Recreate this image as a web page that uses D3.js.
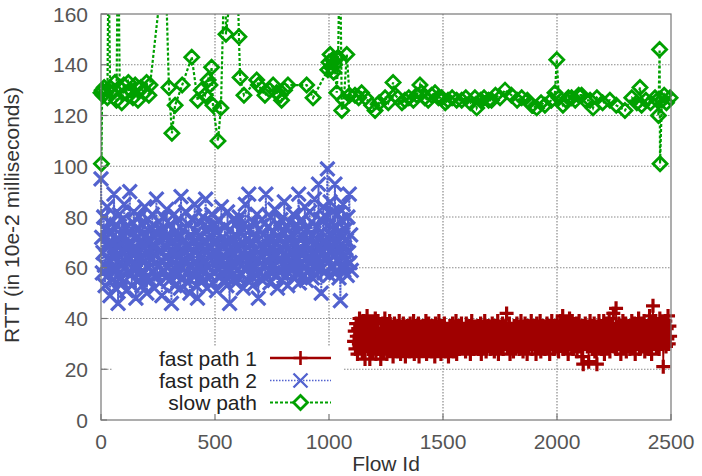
<!DOCTYPE html>
<html>
<head>
<meta charset="utf-8">
<script src="https://cdn.jsdelivr.net/npm/d3@7"></script>
<style>
  body { margin: 0; background: #fff; }
  svg { display: block; font-family: "Liberation Sans", Arial, sans-serif; }
</style>
</head>
<body>
<div id="chart"></div>
<script>
// fast path 2: one RTT value every 3 flow ids, starting at flow 0
var fast2Start = 0, fast2Step = 3;
var fast2Rtt = [
  95,72,58,66,80,61,53,75,69,84,57,63,78,49,70,60,74,55,67,89,
  64,52,77,59,71,46,68,81,56,73,62,79,54,66,85,60,76,51,69,58,
  74,63,90,57,70,53,78,65,82,59,67,48,75,61,72,55,80,64,58,71,
  53,77,62,68,84,56,73,50,66,79,60,70,55,76,63,81,58,69,52,74,
  65,87,57,71,61,78,54,67,75,49,62,80,59,72,64,56,83,68,60,73,
  55,77,63,46,70,58,66,81,53,74,61,69,57,79,64,72,52,88,67,60,
  75,56,71,63,82,58,68,54,77,65,50,73,60,79,57,70,62,85,66,53,
  74,48,69,61,78,56,72,64,59,80,55,67,63,87,70,52,76,60,68,57,
  73,65,81,54,70,62,58,77,66,51,74,60,79,56,69,63,84,58,72,61,
  55,76,64,70,53,82,59,67,46,75,62,71,57,79,65,60,73,54,68,78,
  63,56,80,69,58,74,61,66,52,77,64,85,59,71,55,68,89,62,75,57,
  70,64,53,78,60,72,67,57,81,63,48,75,58,69,65,79,55,73,61,68,
  56,89,66,62,76,59,71,54,80,64,68,58,74,61,83,57,70,65,52,77,
  63,72,58,79,67,55,74,61,86,69,57,76,64,53,71,60,78,66,59,73,
  62,81,56,70,65,58,77,63,74,89,54,68,61,79,66,57,72,60,84,69,
  55,75,64,71,59,82,67,62,78,56,73,65,87,60,70,57,76,63,93,68,
  61,79,50,74,66,84,58,71,64,80,69,99,62,77,57,86,67,73,60,82,
  65,70,93,58,76,63,81,68,56,74,47,79,61,72,85,59,68,75,63,71,
  57,80,66,89,62,73,59
];

// fast path 1: one RTT value every 3 flow ids, starting at flow 1110
var fast1Start = 1110, fast1Step = 3;
var fast1Rtt = [
  31,35,28,38,33,26,36,30,40,29,34,37,27,32,39,30,24,35,31,41,
  33,28,37,24,34,30,38,27,35,32,29,40,26,36,31,39,28,34,30,24,
  36,31,38,27,33,40,29,35,26,37,32,30,39,28,34,31,36,25,33,38,
  29,35,32,27,37,30,39,34,26,31,36,28,38,33,30,25,35,32,37,29,
  34,27,38,31,36,29,33,39,26,35,30,37,28,32,38,25,34,31,36,29,
  33,37,28,35,30,39,26,34,31,38,29,36,32,27,37,33,30,35,25,38,
  31,36,28,34,39,30,33,26,37,32,29,35,38,27,31,36,30,34,25,33,
  37,29,35,31,38,27,33,36,30,39,26,34,32,37,28,35,31,38,29,33,
  36,30,34,27,38,32,29,35,31,37,26,33,39,30,35,28,36,32,34,29,
  31,37,28,35,33,38,26,34,30,36,29,39,32,27,35,31,37,30,33,28,
  36,32,38,29,34,27,37,31,35,30,39,26,33,36,29,34,31,38,28,35,
  32,30,37,42,29,35,31,38,26,34,36,30,33,27,37,32,35,29,38,31,
  34,28,36,31,39,30,33,27,35,32,38,29,34,26,37,31,36,30,33,39,
  28,35,32,37,30,34,26,38,31,36,29,33,39,27,35,32,37,30,34,28,
  36,31,38,29,33,37,26,35,32,39,30,34,28,37,31,36,29,38,33,27,
  35,30,39,32,36,41,28,34,31,38,29,37,33,26,35,40,30,36,32,39,
  28,34,31,37,30,38,27,35,33,39,29,36,32,25,37,22,34,30,38,31,
  36,29,35,23,33,39,30,37,28,34,32,38,27,36,31,22,35,29,39,33,
  30,37,28,35,32,39,26,34,31,38,29,36,33,40,27,35,30,37,32,42,
  29,36,31,44,28,35,33,38,30,37,26,34,32,39,29,36,31,38,27,35,
  33,30,37,28,35,31,39,29,36,32,38,26,34,30,37,33,40,28,35,31,
  38,29,34,32,39,27,36,30,37,33,35,28,41,31,38,26,34,45,30,36,
  32,39,29,35,31,37,28,40,33,36,30,38,21,34,31,39,29,36,32,41,
  30,37,33
];

// slow path: sparse flows (values above 160 run off the top of the plot)
var slowIds = [
  0,2,5,9,14,20,28,33,40,50,61,68,75,82,91,100,110,120,130,140,
  150,162,175,190,200,210,215,281,298,311,325,356,398,424,440,456,470,478,485,491,
  513,526,544,548,595,605,610,627,683,690,719,740,755,770,785,792,805,820,902,930,
  995,1000,1005,1010,1015,1020,1025,1034,1040,1048,1056,1065,1078,1090,1114,1130,1143,1160,1187,1202,
  1220,1246,1260,1281,1290,1302,1320,1333,1350,1370,1385,1399,1406,1420,1435,1450,1465,1480,1494,1510,
  1522,1540,1560,1582,1600,1620,1640,1648,1665,1680,1700,1713,1730,1750,1772,1800,1825,1845,1870,1890,
  1911,1930,1947,1975,1991,1999,2008,2026,2040,2050,2064,2080,2095,2108,2125,2145,2158,2175,2200,2232,
  2260,2298,2328,2350,2364,2371,2390,2410,2430,2440,2445,2450,2452,2460,2470,2480,2496
];
var slowRtt = [
  129,101,130,128,131,129,127,185,131,129,133,126,200,131,125,132,129,133,130,127,
  132,126,131,129,133,128,132,185,131,113,124,132,143,126,130,128,134,132,139,124,
  110,123,190,152,190,151,135,128,134,132,128,130,132,129,128,126,130,132,132,127,
  138,141,144,139,142,137,140,129,143,190,122,126,144,128,128,127,129,127,124,122,
  125,127,125,133,128,127,125,126,127,126,128,132,129,127,126,128,129,127,127,125,
  126,127,126,126,127,125,127,123,126,127,126,126,128,127,130,128,126,127,126,124,
  123,125,124,126,129,142,127,124,126,127,127,126,128,128,126,126,123,127,125,126,
  124,122,127,125,131,124,126,125,127,126,120,146,101,126,128,125,127
];

var xTicks = [0, 500, 1000, 1500, 2000, 2500];
var yTicks = [0, 20, 40, 60, 80, 100, 120, 140, 160];
var seriesNames = ["fast path 1", "fast path 2", "slow path"];
var seriesColors = ["#a00000", "#5262cf", "#00a000"];

var W = 702, H = 476;
var margin = {top: 14, right: 31, bottom: 56, left: 101};
var width = W - margin.left - margin.right;
var height = H - margin.top - margin.bottom;

var svg = d3.select("#chart").append("svg")
    .attr("width", W)
    .attr("height", H);

var g = svg.append("g")
    .attr("transform", "translate(" + margin.left + "," + margin.top + ")");

var x = d3.scaleLinear().domain([0, 2500]).range([0, width]);
var y = d3.scaleLinear().domain([0, 160]).range([height, 0]);

svg.append("defs").append("clipPath").attr("id", "plotClip")
    .append("rect").attr("width", width).attr("height", height);

// grid
g.append("g").selectAll("line").data(xTicks.slice(1, -1)).enter().append("line")
    .attr("x1", function(d) { return x(d); }).attr("x2", function(d) { return x(d); })
    .attr("y1", 0).attr("y2", height)
    .attr("stroke", "#8a8a8a").attr("stroke-width", 1.2).attr("stroke-dasharray", "1.5,1.5");
g.append("g").selectAll("line").data(yTicks.slice(1, -1)).enter().append("line")
    .attr("x1", 0).attr("x2", width)
    .attr("y1", function(d) { return y(d); }).attr("y2", function(d) { return y(d); })
    .attr("stroke", "#8a8a8a").attr("stroke-width", 1.2).attr("stroke-dasharray", "1.5,1.5");

var fast2 = fast2Rtt.map(function(v, i) { return {id: fast2Start + i * fast2Step, rtt: v}; });
var fast1 = fast1Rtt.map(function(v, i) { return {id: fast1Start + i * fast1Step, rtt: v}; });
var slow = slowIds.map(function(id, i) { return {id: id, rtt: slowRtt[i]}; });

function crossPath(px, py) {
    var s = 7;
    return "M" + (px - s) + "," + (py - s) + "L" + (px + s) + "," + (py + s) +
           "M" + (px - s) + "," + (py + s) + "L" + (px + s) + "," + (py - s);
}
function plusPath(px, py) {
    var s = 7;
    return "M" + (px - s) + "," + py + "L" + (px + s) + "," + py +
           "M" + px + "," + (py - s) + "L" + px + "," + (py + s);
}
function diamondPath(px, py) {
    var r = 7;
    return "M" + px + "," + (py - r) + "L" + (px + r) + "," + py +
           "L" + px + "," + (py + r) + "L" + (px - r) + "," + py + "Z";
}

var line = d3.line().x(function(d) { return x(d.id); }).y(function(d) { return y(d.rtt); });

// fast path 2 (dotted line + crosses)
g.append("path")
    .datum(fast2)
    .attr("d", line)
    .attr("fill", "none").attr("stroke", seriesColors[1])
    .attr("stroke-width", 2).attr("stroke-dasharray", "2,1");
g.append("path")
    .attr("d", fast2.map(function(d) { return crossPath(x(d.id), y(d.rtt)); }).join(""))
    .attr("fill", "none").attr("stroke", seriesColors[1]).attr("stroke-width", 3.2);

// fast path 1 (solid line + plus signs)
g.append("path")
    .datum(fast1)
    .attr("d", line)
    .attr("fill", "none").attr("stroke", seriesColors[0]).attr("stroke-width", 1.6);
g.append("path")
    .attr("d", fast1.map(function(d) { return plusPath(x(d.id), y(d.rtt)); }).join(""))
    .attr("fill", "none").attr("stroke", seriesColors[0]).attr("stroke-width", 3.2);

// slow path (dashed line + diamonds)
g.append("path")
    .datum(slow)
    .attr("clip-path", "url(#plotClip)")
    .attr("d", line)
    .attr("fill", "none").attr("stroke", seriesColors[2])
    .attr("stroke-width", 2.2).attr("stroke-dasharray", "3,2");
g.append("path")
    .attr("d", slow.filter(function(d) { return d.rtt <= 160; })
        .map(function(d) { return diamondPath(x(d.id), y(d.rtt)); }).join(""))
    .attr("fill", "none").attr("stroke", seriesColors[2]).attr("stroke-width", 2.8);

// legend (opaque box)
var lg = g.append("g");
lg.append("rect")
    .attr("x", 12).attr("y", 333).attr("width", 230).attr("height", 71)
    .attr("fill", "#fff");

// border + ticks
g.append("rect").attr("width", width).attr("height", height)
    .attr("fill", "none").attr("stroke", "#777").attr("stroke-width", 1.2);
g.append("g").selectAll("line").data(xTicks).enter().append("line")
    .attr("x1", function(d) { return x(d); }).attr("x2", function(d) { return x(d); })
    .attr("y1", height).attr("y2", height - 6)
    .attr("stroke", "#777").attr("stroke-width", 1.2);
g.append("g").selectAll("line").data(yTicks).enter().append("line")
    .attr("x1", 0).attr("x2", 6)
    .attr("y1", function(d) { return y(d); }).attr("y2", function(d) { return y(d); })
    .attr("stroke", "#777").attr("stroke-width", 1.2);

// axis labels
g.append("g").selectAll("text").data(xTicks).enter().append("text")
    .attr("x", function(d) { return x(d); })
    .attr("y", height + 29)
    .attr("text-anchor", "middle")
    .style("font-size", "21px").style("fill", "#555")
    .text(function(d) { return d; });
g.append("g").selectAll("text").data(yTicks).enter().append("text")
    .attr("x", -13)
    .attr("y", function(d) { return y(d) + 7.5; })
    .attr("text-anchor", "end")
    .style("font-size", "21px").style("fill", "#555")
    .text(function(d) { return d; });

svg.append("text")
    .attr("transform", "translate(19,215) rotate(-90)")
    .attr("text-anchor", "middle")
    .style("font-size", "21px").style("fill", "#333")
    .text("RTT (in 10e-2 milliseconds)");
svg.append("text")
    .attr("x", 386).attr("y", 471)
    .attr("text-anchor", "middle")
    .style("font-size", "21px").style("fill", "#333")
    .text("Flow Id");

// legend entries
var legendRows = [344, 366.5, 388.5];
seriesNames.forEach(function(name, i) {
    var ly = legendRows[i];
    lg.append("text")
        .attr("x", 156).attr("y", ly + 7.5)
        .attr("text-anchor", "end")
        .style("font-size", "21px").style("fill", "#222")
        .text(name);
    var ln = lg.append("line")
        .attr("x1", 169).attr("x2", 230).attr("y1", ly).attr("y2", ly)
        .attr("stroke", seriesColors[i]);
    var mx = 199.5;
    if (i === 0) {
        ln.attr("stroke-width", 2.4);
        lg.append("path").attr("d", plusPath(mx, ly))
            .attr("stroke", seriesColors[0]).attr("stroke-width", 2.6).attr("fill", "none");
    } else if (i === 1) {
        ln.attr("stroke-width", 1.6).attr("stroke-dasharray", "1.5,1.5");
        lg.append("path").attr("d", crossPath(mx, ly))
            .attr("stroke", seriesColors[1]).attr("stroke-width", 2.3).attr("fill", "none");
    } else {
        ln.attr("stroke-width", 2.2).attr("stroke-dasharray", "3,2");
        lg.append("path").attr("d", diamondPath(mx, ly))
            .attr("stroke", seriesColors[2]).attr("stroke-width", 2.8).attr("fill", "#fff");
    }
});
</script>
</body>
</html>
